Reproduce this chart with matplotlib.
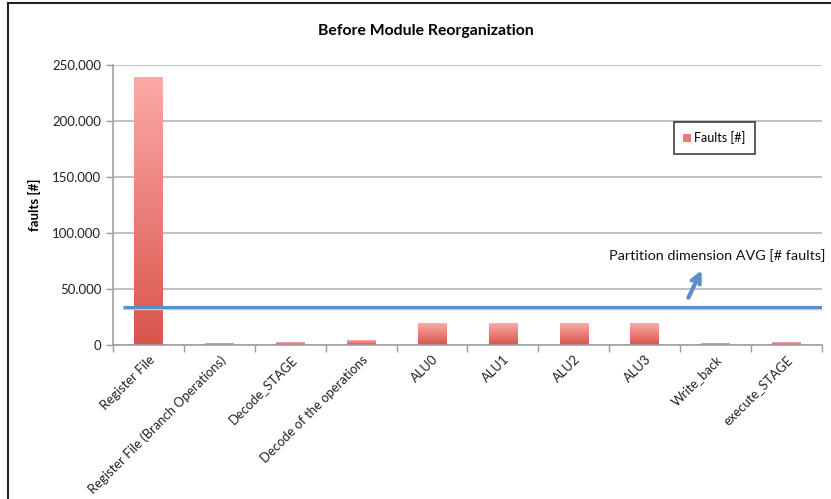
import matplotlib
matplotlib.use("Agg")
import matplotlib.pyplot as plt
import numpy as np
from matplotlib.ticker import FuncFormatter, FixedLocator
from matplotlib.lines import Line2D
from matplotlib.colors import LinearSegmentedColormap

plt.rcParams['font.family'] = ['Lato', 'DejaVu Sans']

categories = ["Register File", "Register File (Branch Operations)", "Decode_STAGE",
              "Decode of the operations", "ALU0", "ALU1", "ALU2", "ALU3",
              "Write_back", "execute_STAGE"]
faults = [239000, 1200, 2300, 3800, 19500, 18800, 18800, 19200, 900, 2000]
avg_value = 34000
series_name = "Faults [#]"
title = "Before Module Reorganization"
ylabel = "faults [#]"
annotation = "Partition dimension AVG [# faults]"

fig = plt.figure(figsize=(8.31, 4.99), dpi=100)
ax = fig.add_axes([0.136, 0.3086, 0.853, 0.5611])

x = np.arange(len(categories))
width = 0.40
bars = ax.bar(x, faults, width=width, color="#e8706a", label=series_name, zorder=2)

cmap = LinearSegmentedColormap.from_list("g", ["#d9544b", "#fbaaa7"])
grad = np.linspace(0, 1, 256).reshape(-1, 1)
for b in bars:
    b.set_facecolor("none")
    bx, bw, bh = b.get_x(), b.get_width(), b.get_height()
    ax.imshow(grad, cmap=cmap, aspect="auto", origin="lower",
              extent=[bx, bx + bw, 0, bh], zorder=2, interpolation="bilinear")

ax.set_xlim(-0.5, len(categories) - 0.5)
ax.set_ylim(0, 250000)
ax.set_yticks([0, 50000, 100000, 150000, 200000, 250000])
ax.yaxis.set_major_formatter(FuncFormatter(
    lambda v, p: "0" if v == 0 else f"{int(v):,}".replace(",", ".")))
ax.grid(axis="y", color="#b5b5b5", linewidth=1.2, zorder=0)
ax.set_axisbelow(True)

ax.set_xticks(x)
ax.set_xticklabels(categories, rotation=45, ha="right", rotation_mode="anchor",
                   fontsize=9.4, color="#222222")
ax.tick_params(axis="x", length=0, pad=6)
ax.xaxis.set_minor_locator(FixedLocator(np.arange(-0.5, len(categories), 1.0)))
ax.tick_params(axis="x", which="minor", length=5, color="#999999", width=1)
ax.tick_params(axis="y", length=5, color="#999999", width=1, labelsize=9.5,
               labelcolor="#222222")

for s in ["top", "right"]:
    ax.spines[s].set_visible(False)
for s in ["left", "bottom"]:
    ax.spines[s].set_color("#a0a0a0")
    ax.spines[s].set_linewidth(1.2)

ax.set_ylabel(ylabel, fontsize=9.5, fontweight="bold", labelpad=8)
fig.text(0.513, 0.938, title, ha="center", va="center", fontsize=11.3, fontweight="bold")

# average line with slight shadow
ax.plot([-0.36, len(categories) - 0.5], [avg_value - 1200, avg_value - 1200],
        color="#c9c9c9", linewidth=2.5, zorder=3, solid_capstyle="butt")
ax.plot([-0.36, len(categories) - 0.5], [avg_value, avg_value],
        color="#5b8fc9", linewidth=2.2, zorder=4, solid_capstyle="butt")

ax.text(8.03, 79500, annotation, fontsize=10.4, color="#111111", ha="center",
        va="center", zorder=5)
ax.annotate("", xy=(7.82, 69000), xytext=(7.6, 40000),
            arrowprops=dict(arrowstyle="->", color="#5b8fc9", lw=3,
                            mutation_scale=16), zorder=5)

leg = ax.legend(loc="upper left", bbox_to_anchor=(0.791, 0.797), frameon=True,
                fancybox=False, fontsize=9, handlelength=0.6, handleheight=0.6,
                handletextpad=0.3, borderpad=0.75, borderaxespad=0)
leg.get_frame().set_edgecolor("#111111")
leg.get_frame().set_linewidth(1.2)
leg.legend_handles[0].set_facecolor("#ec7a75")

fig.add_artist(Line2D([8 / 831, 8 / 831], [0, 1 - 3 / 499], color="#222222", lw=1.5))
fig.add_artist(Line2D([8 / 831, 1], [1 - 3 / 499, 1 - 3 / 499], color="#222222", lw=1.5))

fig.savefig("out.png", dpi=100)
